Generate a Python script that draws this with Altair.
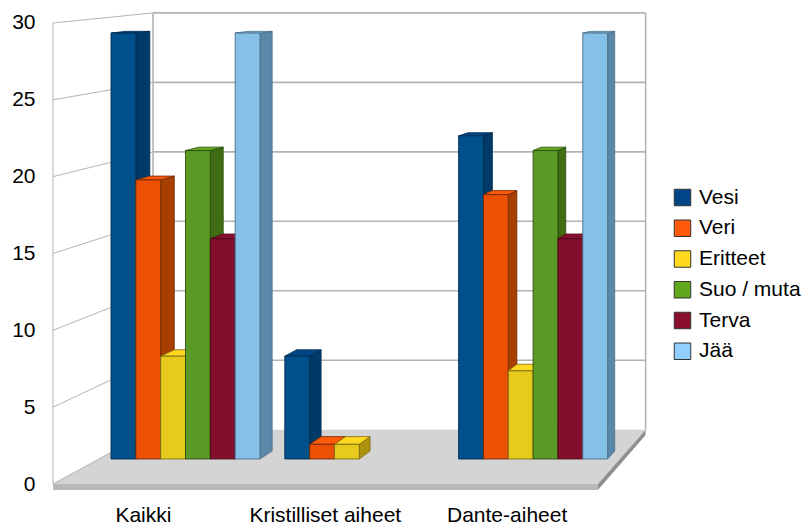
import altair as alt
import pandas as pd

categories = ["Kaikki", "Kristilliset aiheet", "Dante-aiheet"]
series = ["Vesi", "Veri", "Eritteet", "Suo / muta", "Terva", "Jää"]
vesi = [29, 7, 22]
veri = [19, 1, 18]
eritteet = [7, 1, 6]
suo_muta = [21, None, 21]
terva = [15, None, 15]
jaa = [29, None, 29]
series_values = [vesi, veri, eritteet, suo_muta, terva, jaa]

palette = ["#004586", "#ff5a0a", "#ffd820", "#62a81c", "#8a0f2e", "#90cfff"]
front_fill = ["#00508c", "#ec5005", "#e6cb1c", "#5b9a24", "#820f2c", "#85c0e8"]
side_fill = ["#003a69", "#a83f00", "#ad9310", "#406c12", "#5a0a1e", "#5b88a8"]
top_fill = ["#00508f", "#ff5a00", "#ffdc1e", "#64a81e", "#8a0b2a", "#7cb5dc"]
edge = ["#002a50", "#6e2a05", "#7d6a12", "#2b4c10", "#4a0a1a", "#4d6d85"]

tick_values = [0, 5, 10, 15, 20, 25, 30]
FONT = "Liberation Sans"
GRID = "#b3b3b3"

# Horizontal unit is one bar width, vertical unit is one value on the front wall edge.
SLOT_PX, UNIT_PX = 24.83, 15.367
VANISH_X, VANISH_Y = 39.63, 36.83   # perspective vanishing point
SLOTS_PER_GROUP = 7
BAR_PLANE = 0.0442                  # depth of the bars' front faces
BAR_DEPTH = 0.0146
WALL_DEPTH = 0.0960
FRONT_LEFT, FRONT_RIGHT = -2.336, 19.61
WALL_TOP = 30
SLAB = -0.39


def toward(x, y, t):
    return x + t * (VANISH_X - x), y + t * (VANISH_Y - y)


def bar_y(value):
    return toward(0, value, BAR_PLANE)[1]


back_x0 = toward(FRONT_LEFT, 0, WALL_DEPTH)[0]
back_x1 = toward(FRONT_RIGHT, 0, WALL_DEPTH)[0]


def back_y(value):
    return toward(0, value, WALL_DEPTH)[1]


# Bar faces
fronts, sides, tops = [], [], []
for s_i, (name, vals) in enumerate(zip(series, series_values)):
    for c_i, v in enumerate(vals):
        if v is None:
            continue
        x0 = SLOTS_PER_GROUP * c_i + s_i
        x1 = x0 + 1
        base, top = bar_y(0), bar_y(v)
        key = f"{c_i}-{s_i}"
        fronts.append(dict(x=x0, x2=x1, y=base, y2=top, fill=front_fill[s_i], stroke=edge[s_i], k=key))
        bx, bt = toward(x1, top, BAR_DEPTH)
        _, bb = toward(x1, base, BAR_DEPTH)
        sides.append(dict(x=x1, y=top, y2=base, fill=side_fill[s_i], stroke=edge[s_i], k=key))
        sides.append(dict(x=bx, y=bt, y2=bb, fill=side_fill[s_i], stroke=edge[s_i], k=key))
        lx, ly = toward(x0, top, BAR_DEPTH)
        tops.append(dict(y=top, x=x0, x2=x1, series=name, fill=top_fill[s_i], stroke=edge[s_i], k=key))
        tops.append(dict(y=ly, x=lx, x2=bx, series=name, fill=top_fill[s_i], stroke=edge[s_i], k=key))

# Walls
back_lines = [dict(x=back_x0, x2=back_x1, y=back_y(v), y2=back_y(v)) for v in tick_values[1:]]
back_lines += [dict(x=back_x0, x2=back_x0, y=back_y(0), y2=back_y(WALL_TOP)),
               dict(x=back_x1, x2=back_x1, y=back_y(0), y2=back_y(WALL_TOP))]
side_lines = [dict(x=FRONT_LEFT, x2=back_x0, y=v, y2=back_y(v)) for v in tick_values]
side_lines.append(dict(x=FRONT_LEFT, x2=FRONT_LEFT, y=0, y2=WALL_TOP))

# Floor
floor_y = back_y(0)
floor_top = [dict(y=0, x=FRONT_LEFT, x2=FRONT_RIGHT), dict(y=floor_y, x=back_x0, x2=back_x1)]
slab_front = [dict(x=FRONT_LEFT, x2=FRONT_RIGHT, y=SLAB, y2=0)]
slab_side = [dict(x=FRONT_RIGHT, y=SLAB, y2=0),
             dict(x=back_x1, y=toward(FRONT_RIGHT, SLAB, WALL_DEPTH)[1], y2=floor_y)]

# Category labels sit on the front edge of the floor
labels = [dict(x=(SLOTS_PER_GROUP * i + 3 - BAR_PLANE * VANISH_X) / (1 - BAR_PLANE), y=-2.45, label=c)
          for i, c in enumerate(categories)]

x_scale = alt.Scale(domain=[(36 - 111) / SLOT_PX, (802 - 111) / SLOT_PX], nice=False, zero=False)
y_scale = alt.Scale(domain=[(484 - 524) / UNIT_PX, (484 - 5) / UNIT_PX], nice=False, zero=False)
X = alt.X("x:Q", scale=x_scale, axis=None)
Y = alt.Y("y:Q", scale=y_scale, axis=alt.Axis(
    values=tick_values, domain=False, ticks=False, grid=False, title=None,
    labelFont=FONT, labelFontSize=21, labelColor="#000000", labelPadding=1))


def frame(rows):
    return alt.Data(values=rows)


floor_layer = alt.Chart(frame(floor_top)).mark_area(orient="horizontal", color="#d4d4d4").encode(
    x=X, x2="x2:Q", y=Y)
slab_front_layer = alt.Chart(frame(slab_front)).mark_bar(color="#b8b8b8").encode(
    x=X, x2="x2:Q", y=Y, y2="y2:Q")
slab_side_layer = alt.Chart(frame(slab_side)).mark_area(color="#8f8f8f").encode(
    x=X, y=Y, y2="y2:Q")
back_layer = alt.Chart(frame(back_lines)).mark_rule(color=GRID, strokeWidth=1.6).encode(
    x=X, x2="x2:Q", y=Y, y2="y2:Q")
side_layer = alt.Chart(frame(side_lines)).mark_rule(color=GRID, strokeWidth=1).encode(
    x=X, x2="x2:Q", y=Y, y2="y2:Q")

bar_sides = alt.Chart(frame(sides)).mark_area(strokeWidth=0.8).encode(
    x=X, y=Y, y2="y2:Q", detail="k:N",
    fill=alt.Fill("fill:N", scale=None), stroke=alt.Stroke("stroke:N", scale=None))
bar_tops = alt.Chart(frame(tops)).mark_area(orient="horizontal", strokeWidth=0.8).encode(
    x=X, x2="x2:Q", y=Y, detail="k:N",
    fill=alt.Fill("series:N", scale=alt.Scale(domain=series, range=palette), sort=series, legend=alt.Legend(
        title=None, orient="none", legendX=636, legendY=182, symbolType="square", symbolSize=272,
        symbolStrokeColor="#333333", symbolStrokeWidth=1, symbolOpacity=1,
        labelFont=FONT, labelFontSize=21, labelColor="#000000", labelOffset=6, rowPadding=8.75,
        labelLimit=200)),
    stroke=alt.Stroke("stroke:N", scale=None))
bar_fronts = alt.Chart(frame(fronts)).mark_bar(strokeWidth=0.9).encode(
    x=X, x2="x2:Q", y=Y, y2="y2:Q", detail="k:N",
    fill=alt.Fill("fill:N", scale=None), stroke=alt.Stroke("stroke:N", scale=None))

label_layer = alt.Chart(frame(labels)).mark_text(
    font=FONT, fontSize=21, color="#000000", align="center", baseline="alphabetic").encode(
    x=X, y=Y, text="label:N")

chart = alt.layer(
    floor_layer, slab_side_layer, slab_front_layer, back_layer, side_layer,
    bar_sides, bar_tops, bar_fronts, label_layer,
).resolve_scale(fill="independent", stroke="independent").properties(
    width=766, height=519,
    autosize=alt.AutoSizeParams(type="none"),
    padding={"left": 36, "top": 5, "right": 0, "bottom": 0},
).configure_view(stroke=None)

chart.save("out.html", embed_options={"renderer": "svg", "actions": False})
